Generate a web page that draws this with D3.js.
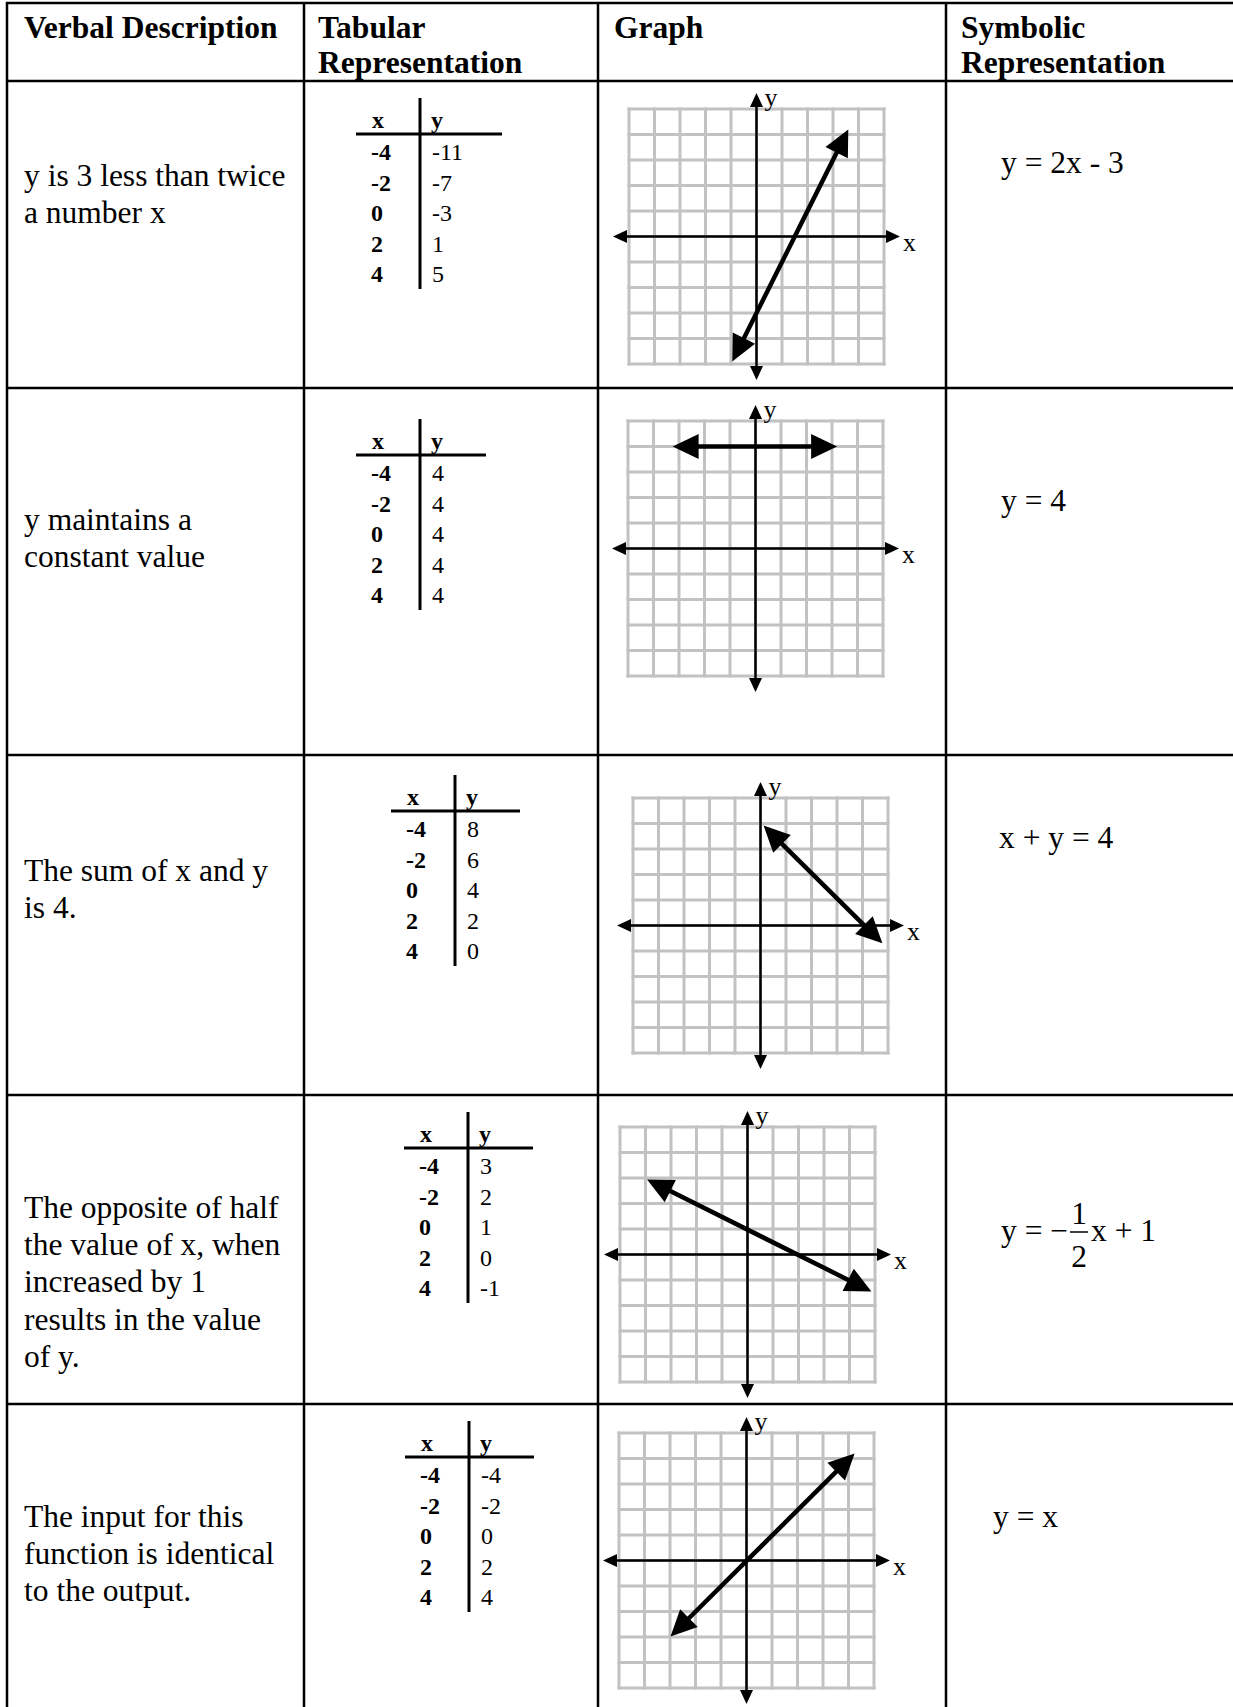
<!DOCTYPE html>
<html>
<head>
<meta charset="utf-8">
<script src="https://cdn.jsdelivr.net/npm/d3@7/dist/d3.min.js"></script>
<style>
    body { margin: 0; background: #fff; }
    svg text { font-family: "Liberation Serif", "Times New Roman", serif; fill: #000; }
    .head { font-weight: bold; font-size: 31.5px; }
    .body { font-size: 31.5px; }
    .tab { font-size: 24px; }
    .tabB { font-size: 24px; font-weight: bold; }
    .axLab { font-size: 26px; }
</style>
</head>
<body>
<div id="chart"></div>
<script>
'use strict';

// Data
const headers = [['Verbal Description'], ['Tabular', 'Representation'], ['Graph'], ['Symbolic', 'Representation']];
const verbal = [
    ['y is 3 less than twice', 'a number x'],
    ['y maintains a', 'constant value'],
    ['The sum of x and y', 'is 4.'],
    ['The opposite of half', 'the value of x, when', 'increased by 1', 'results in the value', 'of y.'],
    ['The input for this', 'function is identical', 'to the output.']
];
const xValues = [-4, -2, 0, 2, 4];
const yValues = [
    [-11, -7, -3, 1, 5],
    [4, 4, 4, 4, 4],
    [8, 6, 4, 2, 0],
    [3, 2, 1, 0, -1],
    [-4, -2, 0, 2, 4]
];
const symbolic = ['y = 2x - 3', 'y = 4', 'x + y = 4', 'fraction', 'y = x'];
const gridTicks = [-5, -4, -3, -2, -1, 0, 1, 2, 3, 4, 5];
// line end points (graph units)
const lineEnds = [
    [[-0.95, -4.9], [3.6, 4.2]],
    [[-3.25, 4], [3.2, 4]],
    [[0.12, 3.92], [4.78, -0.7]],
    [[-3.94, 2.94], [4.86, -1.45]],
    [[-2.98, -2.98], [4.24, 4.2]]
];

/* `````````````````````````````\
    Class: RepTable              |
 `````````````````````````````*/
class RepTable {

    constructor(_parent) {
        this.parent = _parent;
        this.initVis();
    }

    initVis() {
        const vis = this;

        // Config svg
        vis.w = 1233;
        vis.h = 1707;
        vis.svg = d3.select(`#${vis.parent}`)
            .append('svg')
            .attr('width', vis.w)
            .attr('height', vis.h);

        // Layout config (px)
        vis.colLines = [7, 304, 598, 946];
        vis.rowLines = [3, 81, 388, 755, 1095, 1404];
        vis.padX = [24, 318, 614, 961];
        vis.headBase = [38, 73];
        vis.verbalBase = [186, 530, 881, 1218, 1527];
        vis.lineGap = 37.2;
        vis.symX = [1001, 1001, 999, 1001, 993];
        vis.symBase = [173, 511, 848, 1241, 1527];
        vis.tabV = [420, 420, 455, 468, 469];
        vis.tabLine = [134, 455, 811, 1148, 1457];
        vis.tabRight = [82, 66, 65, 65, 65];
        vis.graphBox = [[629, 109], [628, 421], [633, 798], [620, 1127], [619, 1433]];
        vis.cell = 25.5;

        vis.gridG = vis.svg.append('g').attr('id', 'gridG');
        vis.cellsG = vis.svg.append('g').attr('id', 'cellsG');

        vis.updateVis();
    }

    updateVis() {
        const vis = this;

        // Table borders
        vis.gridG.selectAll('.rowLine')
            .data(vis.rowLines)
            .join('line')
            .attr('class', 'rowLine')
            .attr('x1', vis.colLines[0] - 1)
            .attr('x2', vis.w)
            .attr('y1', d => d)
            .attr('y2', d => d)
            .attr('stroke', '#000')
            .attr('stroke-width', 2.5);
        vis.gridG.selectAll('.colLine')
            .data(vis.colLines)
            .join('line')
            .attr('class', 'colLine')
            .attr('x1', d => d)
            .attr('x2', d => d)
            .attr('y1', vis.rowLines[0] - 1)
            .attr('y2', vis.h)
            .attr('stroke', '#000')
            .attr('stroke-width', 2.5);

        // Headers
        headers.forEach((lines, c) => {
            vis.cellsG.selectAll(null)
                .data(lines)
                .join('text')
                .attr('class', 'head')
                .attr('x', vis.padX[c])
                .attr('y', (d, i) => vis.headBase[i])
                .text(d => d);
        });

        // Rows
        verbal.forEach((lines, r) => {
            // Verbal description
            vis.cellsG.selectAll(null)
                .data(lines)
                .join('text')
                .attr('class', 'body')
                .attr('x', vis.padX[0])
                .attr('y', (d, i) => vis.verbalBase[r] + i * vis.lineGap)
                .text(d => d);

            vis.drawTable(r);
            vis.drawGraph(r);
            vis.drawSymbolic(r);
        });
    }

    drawTable(r) {
        const vis = this;
        const g = vis.cellsG.append('g').attr('class', 'tTable');
        const v = vis.tabV[r];
        const ly = vis.tabLine[r];
        const rowY = d3.scalePoint().domain(d3.range(xValues.length)).range([ly + 26, ly + 26 + 30.5 * 4]);

        // T lines
        g.append('line')
            .attr('x1', v - 64).attr('x2', v + vis.tabRight[r])
            .attr('y1', ly).attr('y2', ly)
            .attr('stroke', '#000').attr('stroke-width', 3);
        g.append('line')
            .attr('x1', v).attr('x2', v)
            .attr('y1', ly - 36).attr('y2', rowY(4) + 7)
            .attr('stroke', '#000').attr('stroke-width', 3);

        // Head
        g.append('text').attr('class', 'tabB').attr('x', v - 48).attr('y', ly - 6).text('x');
        g.append('text').attr('class', 'tabB').attr('x', v + 11).attr('y', ly - 6).text('y');

        // Values
        g.selectAll('.xv')
            .data(xValues)
            .join('text')
            .attr('class', 'tabB xv')
            .attr('x', v - 49)
            .attr('y', (d, i) => rowY(i))
            .text(d => d);
        g.selectAll('.yv')
            .data(yValues[r])
            .join('text')
            .attr('class', 'tab yv')
            .attr('x', v + 12)
            .attr('y', (d, i) => rowY(i))
            .text(d => d);
    }

    drawGraph(r) {
        const vis = this;
        const [left, top] = vis.graphBox[r];
        const size = vis.cell * 10;
        const x = d3.scaleLinear().domain([-5, 5]).range([left, left + size]);
        const y = d3.scaleLinear().domain([-5, 5]).range([top + size, top]);
        const g = vis.cellsG.append('g').attr('class', 'graph');

        // Grid
        g.selectAll('.vg')
            .data(gridTicks)
            .join('line')
            .attr('x1', d => x(d)).attr('x2', d => x(d))
            .attr('y1', y(-5) + 1.5).attr('y2', y(5) - 1.5)
            .attr('stroke', '#c2c2c2').attr('stroke-width', 3);
        g.selectAll('.hg')
            .data(gridTicks)
            .join('line')
            .attr('x1', x(-5) - 1.5).attr('x2', x(5) + 1.5)
            .attr('y1', d => y(d)).attr('y2', d => y(d))
            .attr('stroke', '#c2c2c2').attr('stroke-width', 3);

        // Axes
        const ov = 16;
        const ax = x(0);
        const ay = y(0);
        g.append('line')
            .attr('x1', x(-5) - ov + 10).attr('x2', x(5) + ov - 10)
            .attr('y1', ay).attr('y2', ay)
            .attr('stroke', '#000').attr('stroke-width', 2.5);
        g.append('line')
            .attr('x1', ax).attr('x2', ax)
            .attr('y1', y(5) - ov + 10).attr('y2', y(-5) + ov - 10)
            .attr('stroke', '#000').attr('stroke-width', 2.5);
        const axisTips = [
            [[x(5) + ov, ay], [ax, ay]],
            [[x(-5) - ov, ay], [ax, ay]],
            [[ax, y(5) - ov], [ax, ay]],
            [[ax, y(-5) + ov], [ax, ay]]
        ];
        g.selectAll('.axTip')
            .data(axisTips)
            .join('path')
            .attr('d', d => vis.arrowHead(d[0], d[1], 14, 6.5))
            .attr('fill', '#000');

        // Axis labels
        g.append('text').attr('class', 'axLab').attr('x', x(5) + 19).attr('y', ay + 14).text('x');
        g.append('text').attr('class', 'axLab').attr('x', ax + 8).attr('y', y(5) - 3).text('y');

        // Function line
        const pts = lineEnds[r].map(p => [x(p[0]), y(p[1])]);
        const len = 26;
        const hw = 12.5;
        const dx = pts[1][0] - pts[0][0];
        const dy = pts[1][1] - pts[0][1];
        const d = Math.hypot(dx, dy);
        const ux = dx / d;
        const uy = dy / d;
        const inner = [
            [pts[0][0] + ux * (len - 4), pts[0][1] + uy * (len - 4)],
            [pts[1][0] - ux * (len - 4), pts[1][1] - uy * (len - 4)]
        ];
        g.append('path')
            .attr('d', d3.line()(inner))
            .attr('stroke', '#000')
            .attr('stroke-width', 4.5)
            .attr('fill', 'none');
        g.selectAll('.lnTip')
            .data([[pts[0], pts[1]], [pts[1], pts[0]]])
            .join('path')
            .attr('d', t => vis.arrowHead(t[0], t[1], len, hw))
            .attr('fill', '#000');
    }

    arrowHead(tip, from, len, hw) {
        const dx = tip[0] - from[0];
        const dy = tip[1] - from[1];
        const d = Math.hypot(dx, dy);
        const ux = dx / d;
        const uy = dy / d;
        const bx = tip[0] - ux * len;
        const by = tip[1] - uy * len;
        return `M${tip[0]},${tip[1]}L${bx - uy * hw},${by + ux * hw}L${bx + uy * hw},${by - ux * hw}Z`;
    }

    drawSymbolic(r) {
        const vis = this;
        const sx = vis.symX[r];
        const sb = vis.symBase[r];
        if (symbolic[r] !== 'fraction') {
            vis.cellsG.append('text')
                .attr('class', 'body')
                .attr('x', sx)
                .attr('y', sb)
                .attr('xml:space', 'preserve')
                .text(symbolic[r]);
            return;
        }

        // y = -1/2 x + 1
        const g = vis.cellsG.append('g').attr('class', 'frac');
        g.append('text').attr('class', 'body').attr('x', sx).attr('y', sb).text('y = \u2212');
        g.append('line')
            .attr('x1', sx + 69).attr('x2', sx + 87)
            .attr('y1', sb - 9).attr('y2', sb - 9)
            .attr('stroke', '#000').attr('stroke-width', 1.5);
        g.append('text').attr('class', 'body').attr('x', sx + 78).attr('y', sb - 17)
            .attr('text-anchor', 'middle').text('1');
        g.append('text').attr('class', 'body').attr('x', sx + 78).attr('y', sb + 26)
            .attr('text-anchor', 'middle').text('2');
        g.append('text').attr('class', 'body').attr('x', sx + 90).attr('y', sb).text('x + 1');
    }
}

new RepTable('chart');
</script>
</body>
</html>
